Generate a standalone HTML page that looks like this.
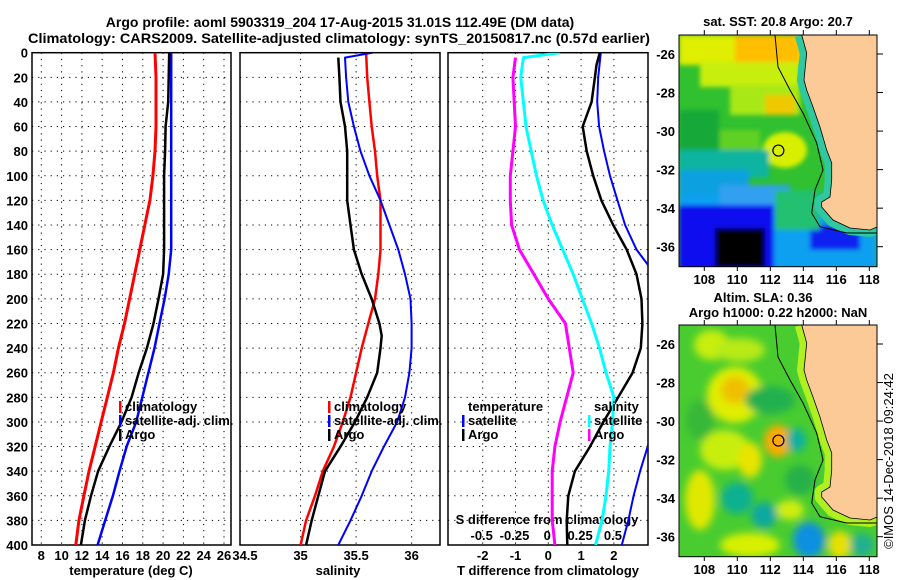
<!DOCTYPE html>
<html><head><meta charset="utf-8"><style>
html,body{margin:0;padding:0;background:#fff;}
svg{display:block;font-family:"Liberation Sans",sans-serif;font-weight:bold;}
</style></head><body>
<svg id="s" width="900" height="580" xmlns="http://www.w3.org/2000/svg">
<defs>
<clipPath id="c1"><rect x="32" y="52.7" width="199" height="492.3"/></clipPath>
<clipPath id="c2"><rect x="240" y="52.7" width="200" height="492.3"/></clipPath>
<clipPath id="c3"><rect x="448" y="52.7" width="200" height="492.3"/></clipPath>
<clipPath id="cm1"><rect x="679" y="35" width="198" height="231.7"/></clipPath>
<clipPath id="cm2"><rect x="679" y="325" width="198" height="231.7"/></clipPath>
<filter id="bl" x="-30%" y="-30%" width="160%" height="160%"><feGaussianBlur stdDeviation="4"/></filter>
<filter id="bl2" x="-20%" y="-20%" width="140%" height="140%"><feGaussianBlur stdDeviation="2.5"/></filter>
</defs>
<text x="340" y="27" font-size="14" text-anchor="middle">Argo profile: aoml 5903319_204 17-Aug-2015 31.01S 112.49E (DM data)</text>
<text x="28" y="43" font-size="14" textLength="622" lengthAdjust="spacingAndGlyphs">Climatology: CARS2009. Satellite-adjusted climatology: synTS_20150817.nc (0.57d earlier)</text>
<g id="g"></g>
<g clip-path="url(#cm1)">
<rect x="679" y="35" width="198" height="232" fill="#30c030"/>
<g filter="url(#bl2)">
<rect x="679" y="35" width="125" height="30" fill="#e0ee00"/>
<rect x="735" y="35" width="65" height="40" fill="#ffbe00"/>
<rect x="700" y="62" width="100" height="25" fill="#c8ee10"/>
<rect x="730" y="85" width="70" height="30" fill="#a8e818"/>
<rect x="765" y="95" width="30" height="20" fill="#f0c800"/>
<ellipse cx="785" cy="150" rx="22" ry="18" fill="#d8f000"/>
<rect x="679" y="110" width="40" height="45" fill="#18a838"/>
<rect x="720" y="130" width="40" height="30" fill="#60d020"/>
<rect x="679" y="150" width="90" height="28" fill="#10b4a0"/>
<rect x="679" y="170" width="70" height="25" fill="#10a0e0"/>
<rect x="679" y="195" width="198" height="75" fill="#10a0f0"/>
<rect x="720" y="185" width="70" height="30" fill="#30a0f0"/>
<rect x="679" y="205" width="95" height="65" fill="#1010f0"/>
<rect x="810" y="225" width="50" height="25" fill="#1020f0"/>
<rect x="715" y="228" width="50" height="40" fill="#000"/>
<rect x="775" y="190" width="45" height="40" fill="#20c070"/>
</g>
</g>
<g clip-path="url(#cm2)">
<rect x="679" y="325" width="198" height="232" fill="#48cc30"/>
<g filter="url(#bl)">
<ellipse cx="712" cy="345" rx="18" ry="15" fill="#c8ee10"/>
<ellipse cx="740" cy="350" rx="25" ry="12" fill="#b8ea18"/>
<ellipse cx="735" cy="395" rx="28" ry="28" fill="#e0ee00"/>
<ellipse cx="735" cy="390" rx="14" ry="14" fill="#f0c000"/>
<ellipse cx="725" cy="450" rx="25" ry="20" fill="#c8ee10"/>
<ellipse cx="750" cy="460" rx="12" ry="18" fill="#e8e400"/>
<ellipse cx="778" cy="441" rx="14" ry="16" fill="#ffaa00"/>
<ellipse cx="700" cy="500" rx="15" ry="30" fill="#e0e800"/>
<ellipse cx="700" cy="420" rx="14" ry="20" fill="#38b838"/>
<ellipse cx="770" cy="400" rx="25" ry="14" fill="#20b050"/>
<ellipse cx="800" cy="480" rx="15" ry="15" fill="#28b048"/>
<ellipse cx="796" cy="440" rx="10" ry="12" fill="#10b0a0"/>
<ellipse cx="737" cy="498" rx="16" ry="16" fill="#10b090"/>
<ellipse cx="764" cy="515" rx="13" ry="13" fill="#10a8a0"/>
<ellipse cx="809" cy="540" rx="16" ry="18" fill="#1090e0"/>
<ellipse cx="840" cy="545" rx="12" ry="14" fill="#e8e000"/>
<ellipse cx="862" cy="545" rx="12" ry="12" fill="#20b090"/>
<ellipse cx="750" cy="545" rx="30" ry="12" fill="#d8f000"/>
<ellipse cx="790" cy="510" rx="14" ry="10" fill="#d0ee10"/>
</g>
</g>
<g id="maps"></g>
<text transform="translate(893,461) rotate(-90)" font-size="13" font-weight="normal" text-anchor="middle">©IMOS 14-Dec-2018 09:24:42</text>
</svg>
<script>
const depths=[0,20,40,60,80,100,120,140,160,180,200,220,240,260,280,300,320,340,360,380,400];
const tempClim=[19.2,19.3,19.3,19.3,19.2,19.0,18.7,18.2,17.7,17.2,16.7,16.2,15.6,15.1,14.5,13.9,13.3,12.7,12.2,11.7,11.4];
const tempSat=[20.8,20.8,20.8,20.8,20.8,20.8,20.8,20.8,20.8,20.55,20.15,19.65,19.15,18.55,17.95,17.35,16.4,15.7,15.05,14.3,13.55];
const tempArgo=[20.6,20.55,20.5,20.25,20.2,20.1,20.1,20.1,20.1,20.0,19.55,19.05,18.4,17.6,16.9,15.9,14.7,13.6,12.9,12.3,11.9];
const salClim=[35.59,35.6,35.62,35.64,35.67,35.69,35.72,35.72,35.72,35.7,35.67,35.61,35.55,35.5,35.45,35.38,35.3,35.2,35.13,35.05,35.0];
const salSatDepths=[0,4,20,40,60,80,100,120,140,160,180,200,220,240,260,280,300,320,340,360,380,400];
const salSat=[35.65,35.4,35.41,35.43,35.48,35.54,35.62,35.72,35.8,35.88,35.94,35.99,36.0,36.0,35.98,35.94,35.87,35.75,35.64,35.55,35.45,35.34];
const argoDepths=[4,20,40,60,80,100,120,140,160,180,200,220,230,240,260,280,300,320,340,360,380,400];
const salArgo=[35.34,35.35,35.36,35.4,35.42,35.42,35.42,35.45,35.48,35.55,35.64,35.71,35.73,35.72,35.69,35.6,35.49,35.36,35.22,35.16,35.1,35.05];
const dTSat=[1.6,1.52,1.49,1.55,1.7,1.88,2.11,2.34,2.69,3.25,3.4,3.5,3.5,3.45,3.35,3.2,3.03,2.8,2.6,2.44,2.24];
const dTArgoDepths=[0,10,20,40,60,80,100,120,140,160,180,200,220,240,260,280,300,320,340,360,380,400];
const dTArgo=[1.57,1.47,1.42,1.32,1.05,1.17,1.37,1.62,1.98,2.39,2.69,2.84,2.87,2.82,2.57,2.13,1.68,1.27,0.81,0.61,0.56,0.58];
const dSSat=[0.09,-0.19,-0.21,-0.19,-0.17,-0.13,-0.09,-0.04,0.03,0.11,0.19,0.26,0.33,0.39,0.44,0.5,0.49,0.47,0.46,0.44,0.41,0.36];
const dSArgoDepths=[4,20,40,60,80,100,120,140,160,180,200,220,240,260,280,300,320,340,360,380,400];
const dSArgo=[-0.25,-0.27,-0.26,-0.25,-0.27,-0.29,-0.29,-0.28,-0.22,-0.11,0,0.13,0.16,0.19,0.14,0.09,0.05,0.03,0.03,0.03,0.05];
const depthTicks=[0,20,40,60,80,100,120,140,160,180,200,220,240,260,280,300,320,340,360,380,400];
const tempTicks=[8,10,12,14,16,18,20,22,24,26];
const salTicks=[34.5,35,35.5,36];
const salTickLabels=['34.5','35','35.5','36'];
const dTTicks=[-2,-1,0,1,2];
const dSTicks=[-0.5,-0.25,0,0.25,0.5];
const dSTickLabels=['-0.5','-0.25','0','0.25','0.5'];
const latTicks=[-26,-28,-30,-32,-34,-36];
const lonTicks=[108,110,112,114,116,118];
const argoLat=-31.01, argoLon=112.49;
const Y=d=>52.7+d*1.2308;
const XT=t=>41.3+(t-8)*10.15;
const XS=s=>245+(s-34.5)*111.1;
const XD=t=>548.3+t*32.8;
const XDS=s=>548.3+s*4*32.8;
const MX=lon=>704.3+(lon-108)*16.5;
const MY1=lat=>54+(-26-lat)*19.27;
const MY2=lat=>344+(-26-lat)*19.27;
const NS='http://www.w3.org/2000/svg';
const g=document.getElementById('g');
function el(t,a,p){const e=document.createElementNS(NS,t);for(const k in a)e.setAttribute(k,a[k]);(p||g).appendChild(e);return e;}
function txt(x,y,s,anchor,size){const e=el('text',{x:x,y:y,'font-size':size||13,'text-anchor':anchor||'middle'});e.textContent=s;return e;}
const panels=[[32,231,'temperature-panel'],[240,440,'salinity-panel'],[448,648,'difference-panel']];
panels.forEach(p=>{
 const r=el('rect',{x:p[0],y:52.7,width:p[1]-p[0],height:492.3,fill:'none',stroke:'#000','stroke-width':1.5});
 
 
 depthTicks.forEach(d=>{if(d>0&&d<400)el('line',{x1:p[0],x2:p[1],y1:Y(d),y2:Y(d),stroke:'#000','stroke-dasharray':'1.2,5'});});
});
depthTicks.forEach(d=>{const t=txt(28,Y(d)+5,String(d),'end');});
tempTicks.forEach(t=>{const x=XT(t);el('line',{x1:x,x2:x,y1:52.7,y2:545,stroke:'#000','stroke-dasharray':'1.2,5'});const e=txt(x,560,String(t));});
salTicks.forEach((s,i)=>{const x=XS(s);if(i>0)el('line',{x1:x,x2:x,y1:52.7,y2:545,stroke:'#000','stroke-dasharray':'1.2,5'});const e=txt(x,560,salTickLabels[i]);});
dTTicks.forEach(t=>{const x=XD(t);el('line',{x1:x,x2:x,y1:52.7,y2:545,stroke:'#000','stroke-dasharray':'1.2,5'});const e=txt(x,560,String(t));});
dSTicks.forEach((s,i)=>{const e=txt(XDS(s)-1,540,dSTickLabels[i]);});
[['temperature (deg C)',131,'x-axis-title-temperature'],['salinity',338,'x-axis-title-salinity'],['T difference from climatology',548,'x-axis-title-tdiff']].forEach(a=>{const e=txt(a[1],575,a[0]);});
{const e=txt(547,524,'S difference from climatology');}
function line(ds,vs,fx,col,w,clip,name){const pts=ds.map((d,i)=>fx(vs[i]).toFixed(1)+','+Y(d).toFixed(1)).join(' ');
 const e=el('polyline',{points:pts,fill:'none',stroke:col,'stroke-width':w,'stroke-linejoin':'round','clip-path':'url(#'+clip+')'});
 
 }
line(depths,tempClim,XT,'#f00',3,'c1','temp-climatology-line');
line(depths,tempSat,XT,'#00f',2.5,'c1','temp-satellite-line');
line(depths,tempArgo,XT,'#000',2.5,'c1','temp-argo-line');
line(depths,salClim,XS,'#f00',2.5,'c2','sal-climatology-line');
line(salSatDepths,salSat,XS,'#00f',2,'c2','sal-satellite-line');
line(argoDepths,salArgo,XS,'#000',2.5,'c2','sal-argo-line');
line(depths,dTSat,XD,'#00f',2,'c3','tdiff-satellite-line');
line(dTArgoDepths,dTArgo,XD,'#000',2.5,'c3','tdiff-argo-line');
line(salSatDepths,dSSat,XDS,'#0ff',3,'c3','sdiff-satellite-line');
line(dSArgoDepths,dSArgo,XDS,'#f0f',3,'c3','sdiff-argo-line');
function leg(x,y,col,label,name){if(col)el('rect',{x:x-6,y:y-10,width:2.5,height:12,fill:col});const e=txt(x,y,label,'start');}
leg(125,411,'#f00','climatology','legend-temp-climatology');
leg(125,425,'#00f','satellite-adj. clim.','legend-temp-satellite');
leg(125,439,'#000','Argo','legend-temp-argo');
leg(334,411,'#f00','climatology','legend-sal-climatology');
leg(334,425,'#00f','satellite-adj. clim.','legend-sal-satellite');
leg(334,439,'#000','Argo','legend-sal-argo');
leg(468,411,null,'temperature','legend-temperature-header');
leg(468,425,'#00f','satellite','legend-tdiff-satellite');
leg(468,439,'#000','Argo','legend-tdiff-argo');
leg(594,411,null,'salinity','legend-salinity-header');
leg(594,425,'#0ff','satellite','legend-sdiff-satellite');
leg(594,439,'#f0f','Argo','legend-sdiff-argo');
const m=document.getElementById('maps');
const land=[[801.7,35],[806.7,53],[804,80],[806.7,90],[813,107],[820,127],[826.7,150],[831.7,163],[831.7,180],[830,197],[821.7,202],[821.7,207],[833,220],[850,228],[870,230],[877,227],[877,35]];
const shelf=[[775,35],[778,67],[790,90],[803,113],[816.7,143],[823,170],[815,190],[811.7,213],[820,226.7],[846.7,233],[877,233]];
[[0,MY1,'sst'],[290,MY2,'sla']].forEach(o=>{
 const dy=o[0],MY=o[1];
 el('polyline',{points:land.slice(0,16).map(p=>p[0]+','+(p[1]+dy)).join(' '),fill:'none',stroke:dy?'#b0f020':'#30c8a0','stroke-width':14,'stroke-linejoin':'round','clip-path':'url(#cm'+(dy?2:1)+')'},m);
 const lp=el('polygon',{points:land.map(p=>p[0]+','+(p[1]+dy)).join(' '),fill:'#fcca96',stroke:'#000','stroke-width':0.8},m);
 
 
 el('polyline',{points:shelf.map(p=>p[0]+','+(p[1]+dy)).join(' '),fill:'none',stroke:'#000','stroke-width':1},m);
 const c=el('circle',{cx:MX(argoLon),cy:MY(argoLat),r:5.5,fill:'none',stroke:'#000','stroke-width':1.2},m);
 
 
 el('rect',{x:679,y:35+dy,width:198,height:231.7,fill:'none',stroke:'#000','stroke-width':1},m);
 latTicks.forEach(l=>{const y=MY(l);el('line',{x1:877,x2:883,y1:y,y2:y,stroke:'#000'},m);const t=el('text',{x:675,y:y+5,'font-size':13,'text-anchor':'end'},m);t.textContent=String(l);});
 lonTicks.forEach(l=>{const x=MX(l);el('line',{x1:x,x2:x,y1:30+dy,y2:35+dy,stroke:'#000'},m);el('line',{x1:x,x2:x,y1:266.7+dy,y2:271+dy,stroke:'#000'},m);const t=el('text',{x:x,y:284+dy,'font-size':13,'text-anchor':'middle'},m);t.textContent=String(l);});
});
[['sat. SST: 20.8 Argo: 20.7',778,26,'sst-map-title'],['Altim. SLA: 0.36',763,302,'sla-map-title'],['Argo h1000: 0.22 h2000: NaN',778,317,'sla-map-subtitle']].forEach(a=>{const t=el('text',{x:a[1],y:a[2],'font-size':13,'text-anchor':'middle'},m);t.textContent=a[0];});
</script>
</body></html>
